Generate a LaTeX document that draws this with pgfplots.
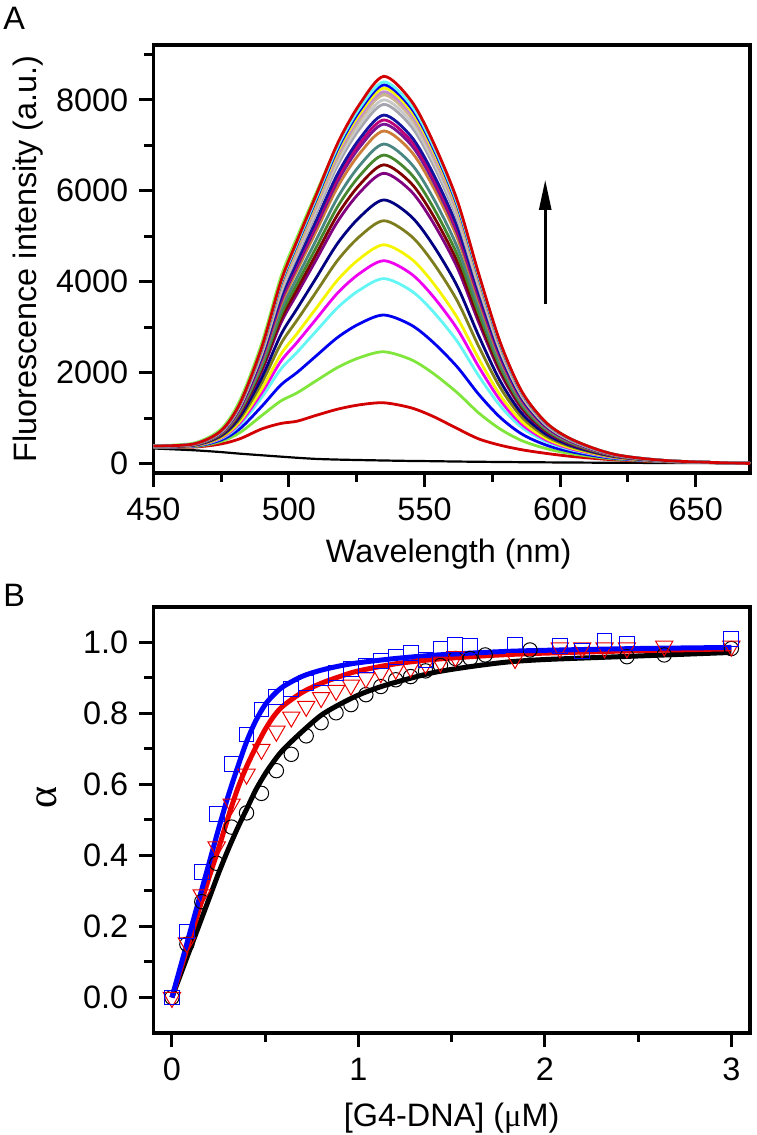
\documentclass[border=0pt]{standalone}
\usepackage{fontspec}
\setmainfont{Liberation Sans}
\newfontfamily\serif{Liberation Serif}
\usepackage{pgfplots}
\pgfplotsset{compat=1.18}
\usetikzlibrary{arrows.meta}
\definecolor{cRed}{RGB}{210,0,0}
\definecolor{cGreen}{RGB}{128,230,60}
\definecolor{cBlue}{RGB}{0,0,240}
\definecolor{cCyan}{RGB}{100,245,245}
\definecolor{cMag}{RGB}{240,0,240}
\definecolor{cYel}{RGB}{245,245,0}
\definecolor{cDkYel}{RGB}{125,125,30}
\definecolor{cNavy}{RGB}{0,0,128}
\definecolor{cPurple}{RGB}{128,0,128}
\definecolor{cWine}{RGB}{128,0,0}
\definecolor{cOlive}{RGB}{70,135,45}
\definecolor{cDkCyan}{RGB}{75,135,130}
\definecolor{cOrange}{RGB}{205,125,55}
\definecolor{cViolet}{RGB}{120,20,150}
\definecolor{cPink}{RGB}{190,0,120}
\definecolor{cRoyal}{RGB}{20,20,160}
\definecolor{cGray}{RGB}{165,165,175}
\definecolor{cLtGray}{RGB}{200,200,200}
\definecolor{cTan}{RGB}{205,180,140}
\definecolor{cVPink}{RGB}{195,140,210}
\definecolor{cLtGreen}{RGB}{140,240,80}
\definecolor{bBlue}{RGB}{0,0,255}
\definecolor{bRed}{RGB}{235,0,0}
\begin{document}
\fontsize{16.2}{19}\selectfont
\begin{tikzpicture}
\useasboundingbox (0pt,0pt) rectangle (378pt,567.5pt);
\pgfplotsset{myaxis/.style={
  scale only axis, width=298.35pt, height=214pt,
  axis line style={line width=1.6pt},
  every tick/.style={line width=1.5pt, black},
  major tick length=7pt, minor tick length=4.5pt,
  tick align=outside, tick pos=left,
  ticklabel style={font=\fontsize{16.2}{19}\selectfont},
  label style={font=\fontsize{16.2}{19}\selectfont},
  /pgf/number format/assume math mode=true,
  scaled ticks=false}}
\begin{axis}[myaxis, at={(76.65pt,331pt)}, anchor=south west,
  xmin=450, xmax=670, ymin=-210, ymax=9210,
  xtick={450,500,550,600,650}, minor xtick={475,525,575,625},
  ytick={0,2000,4000,6000,8000}, minor ytick={1000,3000,5000,7000,9000},
  /pgf/number format/1000 sep={},
  xlabel={Wavelength (nm)}, ylabel={Fluorescence intensity (a.u.)},
  xlabel style={at={(axis description cs:0.495,-0.189)}, anchor=center},
  ylabel style={at={(axis description cs:-0.21,0.5)}, anchor=center},
  every axis plot/.append style={line width=1.4pt, smooth}]
\addplot[black, line width=1.1pt] coordinates {(450,330)(465,290)(475,250)(482,215)(490,180)(497,150)(503,125)(510,100)(518,85)(526,75)(535,65)(545,55)(553,50)(562,42)(570,37)(578,32)(586,28)(595,24)(605,20)(620,15)(640,10)(670,5)};
\addplot[cRed] coordinates {(450,355)(465,360)(475,430)(482,545)(490,760)(497,880)(503,930)(510,1058)(518,1195)(526,1290)(535,1335)(545,1225)(553,1040)(562,770)(570,540)(578,400)(586,300)(595,220)(605,150)(620,80)(640,35)(670,5)};
\addplot[cGreen] coordinates {(450,360)(465,371)(475,484)(482,681)(490,1055)(497,1374)(503,1553)(510,1818)(518,2114)(526,2328)(535,2458)(545,2286)(553,1991)(562,1560)(570,1110)(578,753)(586,499)(595,325)(605,207)(620,99)(640,39)(670,4)};
\addplot[cBlue] coordinates {(450,363)(465,379)(475,516)(482,768)(490,1257)(497,1726)(503,2002)(510,2365)(518,2776)(526,3075)(535,3267)(545,3049)(553,2676)(562,2128)(570,1520)(578,1008)(586,643)(595,401)(605,247)(620,112)(640,42)(670,4)};
\addplot[cCyan] coordinates {(450,366)(465,387)(475,547)(482,854)(490,1457)(497,2075)(503,2447)(510,2908)(518,3432)(526,3815)(535,4068)(545,3805)(553,3355)(562,2691)(570,1927)(578,1260)(586,785)(595,476)(605,288)(620,126)(640,45)(670,3)};
\addplot[cMag] coordinates {(450,368)(465,391)(475,562)(482,896)(490,1555)(497,2246)(503,2665)(510,3174)(518,3754)(526,4179)(535,4462)(545,4177)(553,3688)(562,2968)(570,2126)(578,1383)(586,855)(595,513)(605,307)(620,132)(640,46)(670,3)};
\addplot[cYel] coordinates {(450,370)(465,394)(475,576)(482,934)(490,1643)(497,2399)(503,2859)(510,3411)(518,4041)(526,4502)(535,4812)(545,4508)(553,3985)(562,3215)(570,2304)(578,1494)(586,917)(595,546)(605,325)(620,138)(640,47)(670,3)};
\addplot[cDkYel] coordinates {(450,372)(465,399)(475,597)(482,991)(490,1775)(497,2629)(503,3153)(510,3770)(518,4474)(526,4992)(535,5342)(545,5008)(553,4434)(562,3587)(570,2573)(578,1660)(586,1011)(595,595)(605,352)(620,147)(640,49)(670,2)};
\addplot[cNavy] coordinates {(450,374)(465,404)(475,615)(482,1040)(490,1889)(497,2829)(503,3407)(510,4079)(518,4849)(526,5415)(535,5800)(545,5440)(553,4821)(562,3909)(570,2805)(578,1804)(586,1092)(595,638)(605,375)(620,155)(640,51)(670,2)};
\addplot[cPurple] coordinates {(450,376)(465,409)(475,638)(482,1104)(490,2035)(497,3084)(503,3733)(510,4476)(518,5329)(526,5957)(535,6386)(545,5994)(553,5318)(562,4321)(570,3103)(578,1989)(586,1197)(595,693)(605,404)(620,165)(640,53)(670,1)};
\addplot[cWine] coordinates {(450,377)(465,411)(475,645)(482,1124)(490,2082)(497,3165)(503,3836)(510,4602)(518,5481)(526,6129)(535,6572)(545,6170)(553,5476)(562,4452)(570,3197)(578,2047)(586,1230)(595,710)(605,414)(620,168)(640,53)(670,1)};
\addplot[cOlive] coordinates {(450,378)(465,413)(475,653)(482,1147)(490,2135)(497,3259)(503,3955)(510,4748)(518,5657)(526,6327)(535,6787)(545,6372)(553,5658)(562,4603)(570,3306)(578,2115)(586,1268)(595,731)(605,424)(620,171)(640,54)(670,1)};
\addplot[cDkCyan] coordinates {(450,379)(465,416)(475,663)(482,1173)(490,2196)(497,3365)(503,4090)(510,4912)(518,5856)(526,6552)(535,7030)(545,6602)(553,5864)(562,4774)(570,3429)(578,2191)(586,1311)(595,753)(605,437)(620,176)(640,55)(670,1)};
\addplot[cOrange] coordinates {(450,380)(465,419)(475,674)(482,1204)(490,2267)(497,3489)(503,4249)(510,5106)(518,6090)(526,6816)(535,7317)(545,6872)(553,6106)(562,4975)(570,3575)(578,2281)(586,1362)(595,780)(605,451)(620,180)(640,56)(670,1)};
\addplot[cViolet] coordinates {(450,381)(465,420)(475,680)(482,1220)(490,2305)(497,3555)(503,4332)(510,5208)(518,6213)(526,6955)(535,7467)(545,7014)(553,6233)(562,5081)(570,3651)(578,2328)(586,1388)(595,794)(605,459)(620,183)(640,56)(670,1)};
\addplot[cPink] coordinates {(450,381)(465,421)(475,684)(482,1230)(490,2328)(497,3595)(503,4384)(510,5271)(518,6289)(526,7041)(535,7560)(545,7102)(553,6312)(562,5146)(570,3698)(578,2358)(586,1405)(595,803)(605,463)(620,184)(640,57)(670,1)};
\addplot[cRoyal] coordinates {(450,382)(465,422)(475,688)(482,1241)(490,2355)(497,3642)(503,4443)(510,5343)(518,6377)(526,7140)(535,7667)(545,7203)(553,6403)(562,5222)(570,3753)(578,2391)(586,1424)(595,813)(605,469)(620,186)(640,57)(670,1)};
\addplot[cGray] coordinates {(450,383)(465,424)(475,697)(482,1267)(490,2414)(497,3745)(503,4574)(510,5503)(518,6570)(526,7358)(535,7903)(545,7426)(553,6603)(562,5388)(570,3872)(578,2466)(586,1466)(595,835)(605,480)(620,190)(640,58)(670,0)};
\addplot[cLtGray] coordinates {(450,383)(465,425)(475,701)(482,1278)(490,2439)(497,3788)(503,4630)(510,5571)(518,6652)(526,7451)(535,8003)(545,7521)(553,6688)(562,5458)(570,3923)(578,2497)(586,1484)(595,844)(605,486)(620,192)(640,58)(670,0)};
\addplot[cLtGreen] coordinates {(450,390)(465,450)(475,760)(482,1400)(490,2650)(497,4100)(503,4980)(510,5950)(518,7000)(526,7700)(535,8150)(545,7700)(553,6900)(562,5650)(570,4100)(578,2620)(586,1560)(595,890)(605,510)(620,200)(640,60)(670,0)};
\addplot[cTan] coordinates {(450,383)(465,426)(475,705)(482,1289)(490,2465)(497,3835)(503,4690)(510,5643)(518,6740)(526,7550)(535,8111)(545,7622)(553,6779)(562,5533)(570,3978)(578,2531)(586,1503)(595,854)(605,491)(620,194)(640,59)(670,0)};
\addplot[cVPink] coordinates {(450,384)(465,427)(475,708)(482,1297)(490,2483)(497,3866)(503,4729)(510,5692)(518,6798)(526,7616)(535,8182)(545,7690)(553,6839)(562,5584)(570,4014)(578,2553)(586,1515)(595,861)(605,495)(620,195)(640,59)(670,0)};
\addplot[cYel] coordinates {(450,384)(465,428)(475,711)(482,1305)(490,2503)(497,3900)(503,4773)(510,5745)(518,6863)(526,7688)(535,8261)(545,7764)(553,6906)(562,5639)(570,4054)(578,2578)(586,1529)(595,869)(605,498)(620,196)(640,59)(670,0)};
\addplot[cBlue] coordinates {(450,384)(465,428)(475,714)(482,1313)(490,2521)(497,3931)(503,4813)(510,5793)(518,6921)(526,7755)(535,8333)(545,7831)(553,6967)(562,5689)(570,4090)(578,2601)(586,1542)(595,875)(605,502)(620,197)(640,59)(670,0)};
\addplot[cCyan] coordinates {(450,385)(465,429)(475,716)(482,1320)(490,2537)(497,3960)(503,4848)(510,5837)(518,6974)(526,7814)(535,8397)(545,7892)(553,7021)(562,5735)(570,4123)(578,2621)(586,1553)(595,881)(605,505)(620,198)(640,60)(670,0)};
\addplot[cRed] coordinates {(450,385)(465,430)(475,720)(482,1330)(490,2560)(497,4000)(503,4900)(510,5900)(518,7050)(526,7900)(535,8520)(545,7990)(553,7100)(562,5800)(570,4170)(578,2650)(586,1570)(595,890)(605,510)(620,200)(640,60)(670,0)};
\draw[line width=1.3pt, -{Triangle[length=15pt, width=6pt]}] (axis cs:594.5,3509) -- (axis cs:594.5,6240);
\end{axis}
\begin{axis}[myaxis, at={(76.65pt,51pt)}, anchor=south west, height=213pt,
  xmin=-0.1, xmax=3.1, ymin=-0.1, ymax=1.1,
  xtick={0,1,2,3}, minor xtick={0.5,1.5,2.5},
  ytick={0,0.2,0.4,0.6,0.8,1.0}, minor ytick={0.1,0.3,0.5,0.7,0.9},
  yticklabel style={/pgf/number format/.cd, fixed, fixed zerofill, precision=1},
  xlabel={[G4-DNA] ({\serif μ}M)}, ylabel={{\fontsize{21}{24}\selectfont\serif α}},
  xlabel style={at={(axis description cs:0.5,-0.2)}, anchor=center},
  ylabel style={at={(axis description cs:-0.178,0.552)}, anchor=center}]
\addplot[black, only marks, mark=o, mark size=3.6pt, mark options={line width=0.5pt}] coordinates {(0,0)(0.08,0.15)(0.16,0.27)(0.24,0.378)(0.32,0.48)(0.40,0.52)(0.48,0.575)(0.56,0.639)(0.64,0.685)(0.72,0.737)(0.80,0.774)(0.88,0.802)(0.96,0.825)(1.04,0.853)(1.12,0.876)(1.20,0.895)(1.28,0.904)(1.36,0.92)(1.44,0.935)(1.52,0.955)(1.60,0.955)(1.68,0.965)(1.92,0.979)(2.44,0.96)(2.64,0.965)(3.0,0.983)};
\addplot[black, line width=2.5pt, smooth] coordinates {(0,0)(0.05,0.07)(0.1,0.14)(0.15,0.21)(0.2,0.28)(0.25,0.35)(0.3,0.415)(0.35,0.475)(0.4,0.53)(0.45,0.585)(0.5,0.63)(0.55,0.668)(0.6,0.70)(0.7,0.75)(0.8,0.795)(0.9,0.826)(1.0,0.852)(1.1,0.872)(1.2,0.888)(1.4,0.915)(1.6,0.932)(1.8,0.945)(2.0,0.952)(2.4,0.96)(3.0,0.972)};
\addplot[bRed, only marks, mark=triangle, mark size=5pt, mark options={rotate=180, line width=0.5pt}] coordinates {(0,0)(0.08,0.154)(0.16,0.289)(0.24,0.424)(0.32,0.545)(0.40,0.629)(0.48,0.699)(0.56,0.75)(0.64,0.79)(0.72,0.82)(0.80,0.845)(0.88,0.865)(0.96,0.88)(1.04,0.90)(1.12,0.915)(1.20,0.925)(1.28,0.93)(1.36,0.94)(1.44,0.945)(1.52,0.96)(1.84,0.955)(2.08,0.985)(2.20,0.985)(2.32,0.985)(2.44,0.985)(2.64,0.99)(3.0,0.99)};
\addplot[bRed, line width=2.5pt, smooth] coordinates {(0,0)(0.05,0.085)(0.1,0.17)(0.15,0.255)(0.2,0.34)(0.25,0.42)(0.3,0.505)(0.35,0.585)(0.4,0.65)(0.45,0.705)(0.5,0.755)(0.55,0.795)(0.6,0.823)(0.7,0.86)(0.8,0.885)(0.9,0.904)(1.0,0.92)(1.2,0.94)(1.4,0.952)(1.6,0.96)(1.8,0.966)(2.0,0.97)(2.5,0.977)(3.0,0.982)};
\addplot[bBlue, only marks, mark=square, mark size=3.7pt, mark options={line width=0.5pt}] coordinates {(0,0)(0.08,0.186)(0.16,0.354)(0.24,0.517)(0.32,0.657)(0.40,0.741)(0.48,0.811)(0.56,0.847)(0.64,0.868)(0.72,0.886)(0.80,0.90)(0.88,0.915)(0.96,0.925)(1.04,0.935)(1.12,0.948)(1.20,0.96)(1.28,0.97)(1.36,0.95)(1.44,0.983)(1.52,0.993)(1.60,0.99)(1.84,0.993)(2.08,0.99)(2.20,0.975)(2.32,1.004)(2.44,0.997)(3.0,1.01)};
\addplot[bBlue, line width=2.5pt, smooth] coordinates {(0,0)(0.05,0.095)(0.1,0.19)(0.15,0.285)(0.2,0.38)(0.25,0.475)(0.3,0.565)(0.35,0.645)(0.4,0.72)(0.45,0.78)(0.5,0.825)(0.55,0.855)(0.6,0.877)(0.7,0.905)(0.8,0.922)(0.9,0.934)(1.0,0.943)(1.2,0.955)(1.4,0.964)(1.6,0.97)(1.8,0.975)(2.0,0.978)(2.5,0.983)(3.0,0.986)};
\end{axis}
\node[anchor=base west, inner sep=0pt, font=\fontsize{16.2}{19}\selectfont] at (1.5pt,552.5pt) {A};
\node[anchor=base west, inner sep=0pt, font=\fontsize{16.2}{19}\selectfont] at (1.5pt,264.2pt) {B};
\end{tikzpicture}
\end{document}
